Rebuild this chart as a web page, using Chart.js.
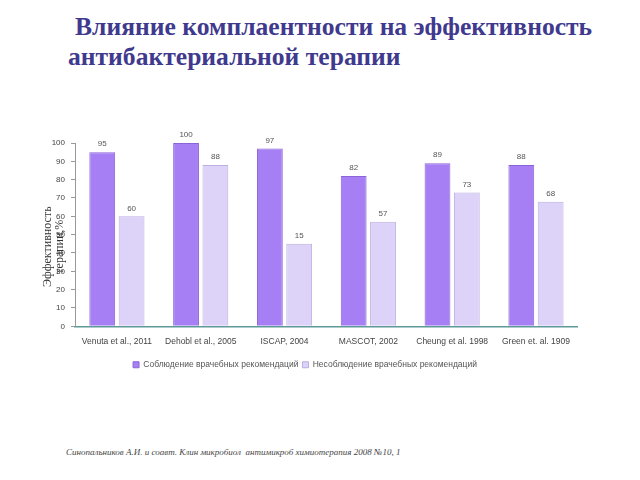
<!DOCTYPE html>
<html>
<head>
<meta charset="utf-8">
<script src="https://cdn.jsdelivr.net/npm/chart.js@4"></script>
<style>
  body { margin: 0; width: 640px; height: 480px; background: #fff; position: relative; overflow: hidden; }
  #title { position: absolute; left: 75px; top: 12px; font-family: "Liberation Serif", serif; font-weight: bold;
           font-size: 25.6px; line-height: 30px; color: #3f3a8e; margin: 0; }
  #title span { display: block; }
  #title span.l2 { margin-left: -7px; }
  #box { position: absolute; left: 30px; top: 128px; width: 550px; height: 251px; }
  #src { position: absolute; left: 66px; top: 447px; font-family: "Liberation Serif", serif; font-style: italic;
         font-size: 9px; color: #444; }
</style>
</head>
<body>
<div id="title"><span>Влияние комплаентности на эффективность</span><span class="l2">антибактериальной терапии</span></div>
<div id="box"><canvas id="chart"></canvas></div>
<div id="src">Синопальников А.И. и соавт. Клин микробиол &nbsp;антимикроб химиотерапия 2008 №10, 1</div>
<script>
document.addEventListener("DOMContentLoaded", function () {
    // Исследования
    var studies = ['Venuta et al., 2011', 'Dehobl et al., 2005', 'ISCAP, 2004', 'MASCOT, 2002', 'Cheung et al. 1998', 'Green et. al. 1909'];
    // Соблюдение рекомендаций
    var compliant = [95, 100, 97, 82, 89, 88];
    // Несоблюдение рекомендаций (высота столбцов)
    var nonCompliant = [60, 88, 45, 57, 73, 68];
    // Подписи над столбцами как на оригинале
    var compliantLabels = ['95', '100', '97', '82', '89', '88'];
    var nonCompliantLabels = ['60', '88', '15', '57', '73', '68'];
    var yTicks = [0, 10, 20, 30, 40, 50, 60, 70, 80, 90, 100];

    var ctx = document.getElementById('chart').getContext('2d');

    // Подписи значений над столбцами
    var valueLabels = {
        id: 'valueLabels',
        afterDatasetsDraw: function (chart) {
            var c = chart.ctx;
            c.save();
            c.font = '8px "Liberation Sans", Arial, sans-serif';
            c.fillStyle = '#555';
            c.textAlign = 'center';
            c.textBaseline = 'bottom';
            var texts = [compliantLabels, nonCompliantLabels];
            chart.data.datasets.forEach(function (ds, i) {
                chart.getDatasetMeta(i).data.forEach(function (bar, j) {
                    c.fillText(texts[i][j], bar.x, bar.y - 4);
                });
            });
            c.restore();
        }
    };

    // Подпись оси Y (накладывается на деления, как в оригинале)
    var yTitle = {
        id: 'yTitle',
        afterDraw: function (chart) {
            var c = chart.ctx;
            var y = chart.scales.y;
            c.save();
            c.translate(y.left + 18, (y.top + y.bottom) / 2 + 12);
            c.rotate(-Math.PI / 2);
            c.font = '12px "Liberation Serif", serif';
            c.fillStyle = '#333';
            c.textAlign = 'center';
            c.fillText('Эффективность', 0, 0);
            c.fillText('терапии,%', 0, 12);
            c.restore();
        }
    };

    var data = {
        labels: studies,
        datasets: [
            {
                label: 'Соблюдение врачебных рекомендаций',
                data: compliant,
                backgroundColor: '#a57ff3',
                borderColor: '#8a64d8',
                borderWidth: 1,
                barPercentage: 0.88,
                categoryPercentage: 0.7
            },
            {
                label: 'Несоблюдение врачебных рекомендаций',
                data: nonCompliant,
                backgroundColor: '#ddd2f8',
                borderColor: '#bcaee2',
                borderWidth: 1,
                barPercentage: 0.88,
                categoryPercentage: 0.7
            }
        ]
    };

    var options = {
        responsive: true,
        maintainAspectRatio: false,
        animation: false,
        layout: { padding: { top: 15, right: 0, left: 0, bottom: 0 } },
        plugins: {
            legend: {
                position: 'bottom',
                labels: {
                    boxWidth: 6,
                    boxHeight: 6,
                    padding: 4,
                    color: '#555',
                    font: { size: 8.5, family: '"Liberation Sans", Arial, sans-serif' }
                }
            },
            tooltip: { enabled: false }
        },
        scales: {
            x: {
                grid: { display: false, drawTicks: false },
                border: { color: '#5f9a98', width: 1.5 },
                ticks: { color: '#444', padding: 10, font: { size: 8.5, family: '"Liberation Sans", Arial, sans-serif' } }
            },
            y: {
                min: 0,
                max: 100,
                afterFit: function (scale) { scale.width = 45; },
                afterBuildTicks: function (scale) {
                    scale.ticks = yTicks.map(function (v) { return { value: v }; });
                },
                grid: { drawOnChartArea: false, tickLength: 4, color: '#999' },
                border: { color: '#999' },
                ticks: { color: '#444', padding: 6, font: { size: 8, family: '"Liberation Sans", Arial, sans-serif' } }
            }
        }
    };

    new Chart(ctx, {
        type: 'bar',
        data: data,
        options: options,
        plugins: [valueLabels, yTitle]
    });
});
</script>
</body>
</html>
